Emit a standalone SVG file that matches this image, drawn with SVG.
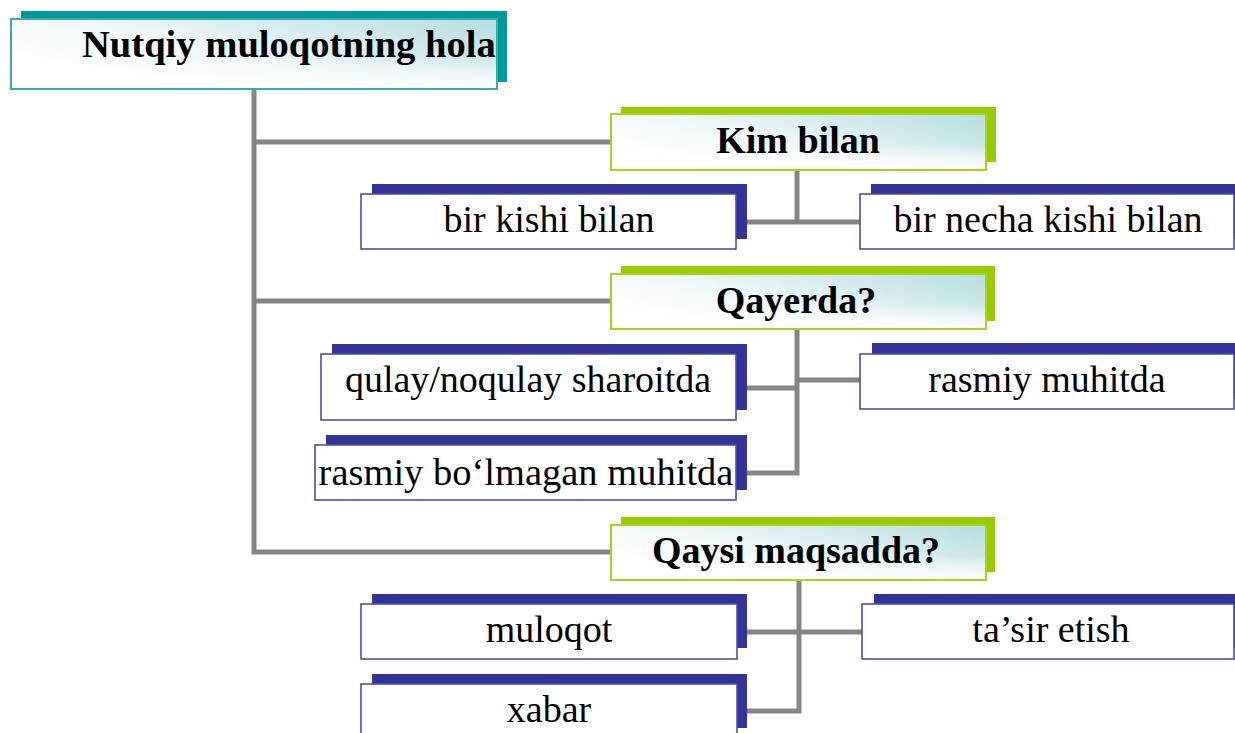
<svg xmlns="http://www.w3.org/2000/svg" width="1235" height="733" viewBox="0 0 1235 733">
<defs>
<linearGradient id="g" x1="0" y1="0.6" x2="1" y2="0">
<stop offset="0" stop-color="#ffffff"/>
<stop offset="0.35" stop-color="#f1f8f9"/>
<stop offset="1" stop-color="#b5dde1"/>
</linearGradient>
<linearGradient id="v" x1="0" y1="0" x2="0" y2="1">
<stop offset="0.55" stop-color="#ffffff" stop-opacity="0"/>
<stop offset="1" stop-color="#ffffff" stop-opacity="0.9"/>
</linearGradient>
<style>
.conn{fill:none;stroke:#858585;stroke-width:5}
.sh-teal{fill:#009999}
.sh-green{fill:#99cc00}
.sh-navy{fill:#333399}
.fr-teal{fill:url(#g);stroke:#3aabab;stroke-width:2}
.fr-green{fill:url(#g);stroke:#a6d41a;stroke-width:2}
.fr-navy{fill:#ffffff;stroke:#4d4dab;stroke-width:1.6}
.ov{fill:url(#v)}
text{font-family:'Liberation Serif','Times New Roman',serif;font-size:38px;fill:#000}
.tb{font-weight:bold}
</style>
</defs>
<g id="connectors">
<polyline class="conn" points="254,89 254,552 611,552"/>
<line class="conn" x1="254" y1="142" x2="611" y2="142"/>
<line class="conn" x1="254" y1="301" x2="611" y2="301"/>
<polyline class="conn" points="797,170 797,222"/>
<line class="conn" x1="747" y1="222" x2="860" y2="222"/>
<polyline class="conn" points="797,329 797,473 747,473"/>
<line class="conn" x1="747" y1="388" x2="797" y2="388"/>
<line class="conn" x1="797" y1="380" x2="860" y2="380"/>
<polyline class="conn" points="799,580 799,711 747,711"/>
<line class="conn" x1="747" y1="632" x2="862" y2="632"/>
</g>
<g id="node-main">
<rect class="sh-teal" x="21" y="11" width="486" height="71"/>
<rect class="fr-teal" x="11" y="19" width="486" height="70"/>
<rect class="ov" x="12" y="20" width="484" height="68"/>
<text class="tb" x="82" y="57" style="font-size:38.6px">Nutqiy muloqotning hola</text>
</g>
<g id="node-kim">
<rect class="sh-green" x="621" y="107" width="375" height="55"/>
<rect class="fr-green" x="611" y="114" width="375" height="56"/>
<rect class="ov" x="612" y="115" width="373" height="54"/>
<text class="tb" x="798" y="153" text-anchor="middle">Kim bilan</text>
</g>
<g id="node-bir-kishi">
<rect class="sh-navy" x="372" y="184" width="375" height="55"/>
<rect class="fr-navy" x="361" y="194" width="375" height="55"/>
<text x="549" y="232" text-anchor="middle">bir kishi bilan</text>
</g>
<g id="node-bir-necha">
<rect class="sh-navy" x="871" y="184" width="364" height="55"/>
<rect class="fr-navy" x="860" y="194" width="374" height="55"/>
<text x="1048" y="232" text-anchor="middle">bir necha kishi bilan</text>
</g>
<g id="node-qayerda">
<rect class="sh-green" x="621" y="266" width="374" height="55"/>
<rect class="fr-green" x="611" y="274" width="375" height="55"/>
<rect class="ov" x="612" y="275" width="373" height="53"/>
<text class="tb" x="796" y="313" text-anchor="middle">Qayerda?</text>
</g>
<g id="node-qulay">
<rect class="sh-navy" x="332" y="344" width="415" height="66"/>
<rect class="fr-navy" x="321" y="354" width="415" height="66"/>
<text x="528" y="392" text-anchor="middle">qulay/noqulay sharoitda</text>
</g>
<g id="node-rasmiy">
<rect class="sh-navy" x="872" y="343" width="363" height="56"/>
<rect class="fr-navy" x="860" y="354" width="374" height="55"/>
<text x="1047" y="392" text-anchor="middle">rasmiy muhitda</text>
</g>
<g id="node-rasmiy-bolmagan">
<rect class="sh-navy" x="326" y="435" width="421" height="55"/>
<rect class="fr-navy" x="315" y="445" width="421" height="55"/>
<text x="526" y="485" text-anchor="middle" style="font-size:38.5px">rasmiy bo‘lmagan muhitda</text>
</g>
<g id="node-qaysi">
<rect class="sh-green" x="621" y="517" width="374" height="55"/>
<rect class="fr-green" x="611" y="525" width="375" height="55"/>
<rect class="ov" x="612" y="526" width="373" height="53"/>
<text class="tb" x="796" y="563" text-anchor="middle">Qaysi maqsadda?</text>
</g>
<g id="node-muloqot">
<rect class="sh-navy" x="372" y="594" width="375" height="54"/>
<rect class="fr-navy" x="361" y="604" width="376" height="55"/>
<text x="549" y="642" text-anchor="middle">muloqot</text>
</g>
<g id="node-tasir">
<rect class="sh-navy" x="874" y="594" width="361" height="54"/>
<rect class="fr-navy" x="862" y="604" width="372" height="55"/>
<text x="1051" y="642" text-anchor="middle">ta’sir etish</text>
</g>
<g id="node-xabar">
<rect class="sh-navy" x="372" y="674" width="375" height="54"/>
<rect class="fr-navy" x="361" y="684" width="376" height="55"/>
<text x="549" y="722" text-anchor="middle">xabar</text>
</g>
</svg>
